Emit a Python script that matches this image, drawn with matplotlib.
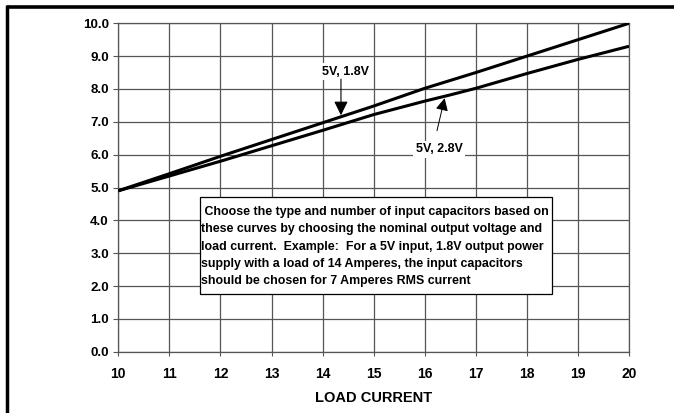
import matplotlib
matplotlib.use("Agg")
import matplotlib.pyplot as plt
from matplotlib.lines import Line2D
from matplotlib.patches import Rectangle

plt.rcParams['font.family'] = ['Liberation Sans', 'DejaVu Sans']

# ---- data ----
load_current = [10, 11, 12, 13, 14, 15, 16, 17, 18, 19, 20]
rms_5v_18v = [4.9, 5.42, 5.95, 6.46, 6.97, 7.48, 8.02, 8.5, 9.0, 9.5, 10.0]
load_current_28 = [10, 11, 12, 13, 14, 15, 16, 16.5, 17, 18, 19, 20]
rms_5v_28v = [4.9, 5.35, 5.8, 6.27, 6.74, 7.22, 7.63, 7.82, 8.02, 8.47, 8.9, 9.3]
x_ticks = list(range(10, 21))
y_ticks = [0, 1, 2, 3, 4, 5, 6, 7, 8, 9, 10]
x_label = "LOAD CURRENT"
label_18 = "5V, 1.8V"
label_28 = "5V, 2.8V"
note_lines = [
    " Choose the type and number of input capacitors based on",
    "these curves by choosing the nominal output voltage and",
    "load current.  Example:  For a 5V input, 1.8V output power",
    "supply with a load of 14 Amperes, the input capacitors",
    "should be chosen for 7 Amperes RMS current",
]

W, H = 674, 413
fig = plt.figure(figsize=(W / 100, H / 100), dpi=100)
ax = fig.add_axes([118.3 / W, 1 - 351.7 / H, (629 - 118.3) / W, (351.7 - 23.3) / H])

gcol = '#555555'
ax.set_xlim(10, 20)
ax.set_ylim(0, 10)
ax.set_xticks(x_ticks)
ax.set_yticks(y_ticks)
ax.set_yticklabels([f"{v:.1f}" for v in y_ticks])
ax.grid(True, color=gcol, lw=0.9)
ax.set_axisbelow(True)
for s in ax.spines.values():
    s.set_color(gcol)
    s.set_linewidth(0.9)
ax.tick_params(axis='x', length=3, color=gcol, pad=8, labelsize=10)
ax.tick_params(axis='y', length=3.3, color=gcol, pad=3.5, labelsize=9.6)
for lab in ax.get_xticklabels() + ax.get_yticklabels():
    lab.set_fontweight('bold')
ax.set_xlabel(x_label, labelpad=7)
ax.xaxis.label.set_fontsize(10.5)
ax.xaxis.label.set_fontweight('bold')

ax.plot(load_current, rms_5v_18v, color='black', lw=2.2, solid_capstyle='butt', zorder=3)
ax.plot(load_current_28, rms_5v_28v, color='black', lw=2.2, solid_capstyle='butt', zorder=3)

# labels with arrows
ax.text(14.44, 8.53, label_18, ha='center', va='center', fontsize=9, fontweight='bold',
        bbox=dict(facecolor='white', edgecolor='none', pad=1.5), zorder=4)
ax.annotate('', xy=(14.36, 7.2), xytext=(14.36, 8.3),
            arrowprops=dict(arrowstyle='-|>,head_length=0.85,head_width=0.42',
                            color='black', lw=0.8, shrinkA=0, shrinkB=0), zorder=4)
ax.text(16.28, 6.16, label_28, ha='center', va='center', fontsize=9, fontweight='bold',
        bbox=dict(facecolor='white', edgecolor='none', pad=1.5), zorder=4)
ax.annotate('', xy=(16.39, 7.72), xytext=(16.24, 6.73),
            arrowprops=dict(arrowstyle='-|>,head_length=0.75,head_width=0.38',
                            color='black', lw=0.7, shrinkA=0, shrinkB=0), zorder=4)

# note box
ax.add_patch(Rectangle((11.595, 1.76), 18.5 - 11.595, 4.71 - 1.76, facecolor='white',
                       edgecolor='black', lw=0.9, zorder=5))
for i, line in enumerate(note_lines):
    ax.text(11.625, 4.25 - i * 0.525, line, ha='left', va='center', fontsize=8.9,
            fontweight='bold', zorder=6)

# outer frame (top and left only)
fig.add_artist(Line2D([7 / W, 1], [1 - 6.8 / H, 1 - 6.8 / H], color='black', lw=2.6,
                      transform=fig.transFigure, solid_capstyle='butt'))
fig.add_artist(Line2D([7.4 / W, 7.4 / W], [1 - 5 / H, 0], color='black', lw=2.5,
                      transform=fig.transFigure, solid_capstyle='butt'))

fig.savefig('out.png', dpi=100)
